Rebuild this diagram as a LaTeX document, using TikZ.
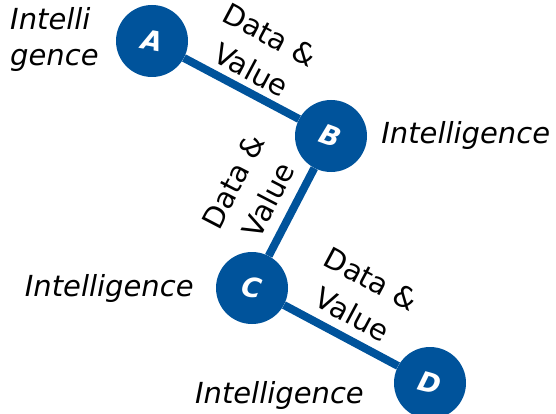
\documentclass[tikz,border=0pt]{standalone}
\usepackage{fontspec}
\setmainfont{DejaVu Sans}
\usetikzlibrary{positioning}

\begin{document}
\begin{tikzpicture}[
        x=1pt, y=-1pt,
        node distance=8pt,
    ]

    \definecolor{ringblue}{RGB}{0,83,155}

    \tikzstyle{hub} = [circle, fill=ringblue, minimum size=72pt, inner sep=0pt,
                       text=white, font=\fontsize{27}{27}\selectfont\bfseries\itshape];
    \tikzstyle{intel} = [font=\fontsize{29}{36}\selectfont\itshape, inner sep=0pt];
    \tikzstyle{flow} = [font=\fontsize{29}{36}\selectfont, align=center, inner sep=2pt];
    \tikzstyle{link} = [line width=8pt, ringblue];

    \useasboundingbox (0,0) rectangle (556,414);

    % Nodes
    \node[hub] (a) at (152,41) {\rotatebox{-10}{A}};
    \node[hub] (b) at (331,136) {\rotatebox{-20}{B}};
    \node[hub] (c) at (252,288) {\rotatebox{-10}{C}};
    \node[hub] (d) at (430,383) {\rotatebox{-15}{D}};

    % Labels
    \node[intel, align=left, anchor=west] (inta) at (10,40) {Intelli\\gence};
    \node[intel, right=14pt of b] (intb) {Intelligence};
    \node[intel, left=22pt of c] (intc) {Intelligence};
    \node[intel, anchor=east] (intd) at (364,395) {Intelligence};

    % Edges
    \draw[link] (a) -- (b) node[flow, midway, above=4pt, sloped, text=black] {Data \&\\[4pt]Value};
    \draw[link] (c) -- (b) node[flow, midway, above=9pt, sloped, text=black] {Data \&\\[4pt]Value};
    \draw[link] (c) -- (d) node[flow, midway, above=7pt, sloped, text=black] {Data \&\\[4pt]Value};

\end{tikzpicture}
\end{document}
